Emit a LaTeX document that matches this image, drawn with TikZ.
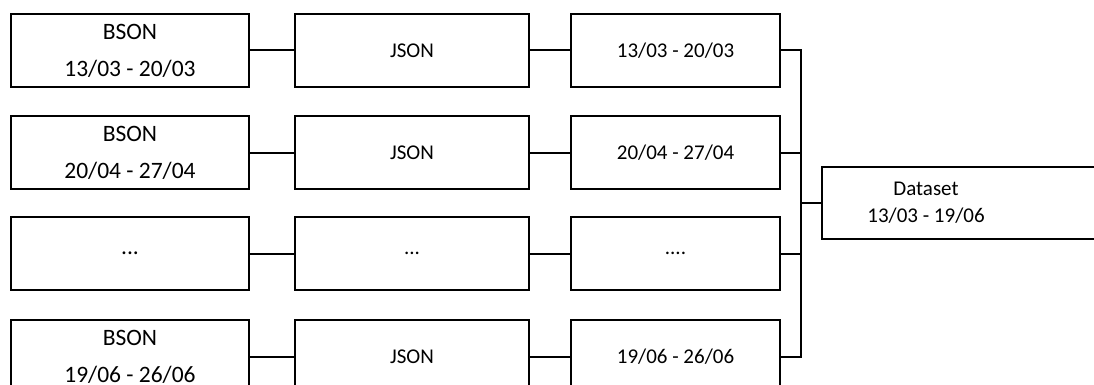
\documentclass[tikz,border=0pt]{standalone}
\usepackage{fontspec}
\setmainfont{Carlito}
\begin{document}
\begin{tikzpicture}[x=1pt,y=-1pt,
  box/.style={draw=black, line width=2pt, fill=white, inner sep=0pt, align=center},
  colA/.style={box, minimum width=238pt, minimum height=73pt, font=\fontsize{23.5}{37}\selectfont},
  colB/.style={box, minimum width=234pt, minimum height=73pt, font=\fontsize{21}{26}\selectfont},
  colC/.style={box, minimum width=209pt, minimum height=73pt, font=\fontsize{21}{26}\selectfont},
  wire/.style={draw=black, line width=2pt}]
\useasboundingbox (0,0) rectangle (1094,385);
% rows
\node[colA] (a1) at (130,50.5) {BSON\\13/03 - 20/03};
\node[colA] (a2) at (130,152.5) {BSON\\20/04 - 27/04};
\node[colA] (a3) at (130,253.5) {...};
\node[colA] (a4) at (130,356.5) {BSON\\19/06 - 26/06};
\node[colB] (b1) at (412,50.5) {JSON};
\node[colB] (b2) at (412,152.5) {JSON};
\node[colB] (b3) at (412,253.5) {...};
\node[colB] (b4) at (412,356.5) {JSON};
\node[colC] (c1) at (675.5,50.5) {13/03 - 20/03};
\node[colC] (c2) at (675.5,152.5) {20/04 - 27/04};
\node[colC] (c3) at (675.5,253.5) {....};
\node[colC] (c4) at (675.5,356.5) {19/06 - 26/06};
% dataset
\node[box, anchor=west, minimum width=300pt, minimum height=72pt] (ds) at (821,203) {};
\node[font=\fontsize{21}{27}\selectfont, align=center] (dstext) at (926,203) {Dataset\\13/03 - 19/06};
\coordinate (j) at (801,203);
\foreach \i in {1,2,3,4}{
  \draw[wire] (a\i.east) -- (b\i.west);
  \draw[wire] (b\i.east) -- (c\i.west);
  \draw[wire] (c\i.east) -| (j);
}
\draw[wire] (j) -- (ds.west);
\end{tikzpicture}
\end{document}
